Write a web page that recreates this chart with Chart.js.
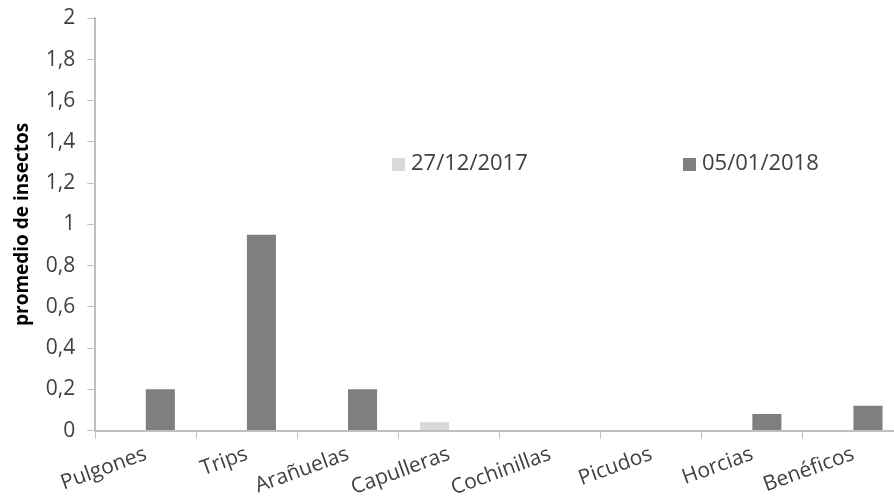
<!DOCTYPE html>
<html>
<head>
<meta charset="utf-8">
<script src="https://cdn.jsdelivr.net/npm/chart.js@4.4.1/dist/chart.umd.min.js"></script>
<style>
  html, body { margin: 0; padding: 0; background: #ffffff; overflow: hidden; }
  #wrap { width: 912px; height: 504px; position: relative; }
</style>
</head>
<body>
<div id="wrap"><canvas id="c" width="912" height="504"></canvas></div>
<script>
const categories = ["Pulgones", "Trips", "Arañuelas", "Capulleras", "Cochinillas", "Picudos", "Horcias", "Benéficos"];
const seriesLabels = ["27/12/2017", "05/01/2018"];
const series2017 = [0, 0, 0, 0.04, 0, 0, 0, 0];
const series2018 = [0.2, 0.95, 0.2, 0, 0, 0, 0.08, 0.12];
const yTicks = [0, 0.2, 0.4, 0.6, 0.8, 1, 1.2, 1.4, 1.6, 1.8, 2];
const colors = ["#d9d9d9", "#7f7f7f"];
const FONT = "'Open Sans', sans-serif";
const TEXT = "#404040";
const AXIS = "#bfbfbf";

const legendPlugin = {
  id: "insideLegend",
  afterDraw(chart) {
    const ctx = chart.ctx;
    const spots = [392, 683];
    const yc = 164;
    ctx.save();
    ctx.font = "22px " + FONT;
    ctx.textBaseline = "middle";
    ctx.textAlign = "left";
    chart.data.datasets.forEach((ds, i) => {
      const x = spots[i];
      ctx.fillStyle = ds.backgroundColor;
      ctx.fillRect(x, yc - 6, 13, 13);
      ctx.fillStyle = TEXT;
      ctx.fillText(ds.label, x + 19, yc);
    });
    ctx.restore();
  }
};

new Chart(document.getElementById("c"), {
  type: "bar",
  data: {
    labels: categories,
    datasets: [
      { label: seriesLabels[0], data: series2017, backgroundColor: colors[0], borderWidth: 0 },
      { label: seriesLabels[1], data: series2018, backgroundColor: colors[1], borderWidth: 0 }
    ]
  },
  options: {
    responsive: false,
    animation: false,
    devicePixelRatio: 1,
    layout: { padding: { top: 0, right: 8, left: 11, bottom: 0 } },
    plugins: {
      legend: { display: false },
      tooltip: { enabled: false }
    },
    datasets: { bar: { barPercentage: 1, categoryPercentage: 0.575 } },
    scales: {
      x: {
        grid: { display: true, drawOnChartArea: false, drawTicks: true, tickLength: 8, color: AXIS, offset: true },
        border: { display: true, color: AXIS, width: 2 },
        ticks: {
          color: TEXT,
          font: { family: FONT, size: 21 },
          minRotation: 20,
          maxRotation: 20,
          padding: 3,
          autoSkip: false
        }
      },
      y: {
        min: 0,
        max: 2,
        afterBuildTicks(axis) { axis.ticks = yTicks.map(v => ({ value: v })); },
        grid: { display: true, drawOnChartArea: false, drawTicks: true, tickLength: 8, color: AXIS },
        border: { display: true, color: AXIS, width: 2 },
        ticks: {
          color: TEXT,
          font: { family: FONT, size: 21, lineHeight: 0.6 },
          padding: 12,
          callback: (v) => String(v).replace(".", ",")
        },
        title: {
          display: true,
          text: "promedio de insectos",
          color: "#000000",
          font: { family: FONT, size: 19, weight: "bold" },
          padding: { top: 0, bottom: 0 }
        }
      }
    }
  },
  plugins: [legendPlugin]
});
</script>
</body>
</html>
